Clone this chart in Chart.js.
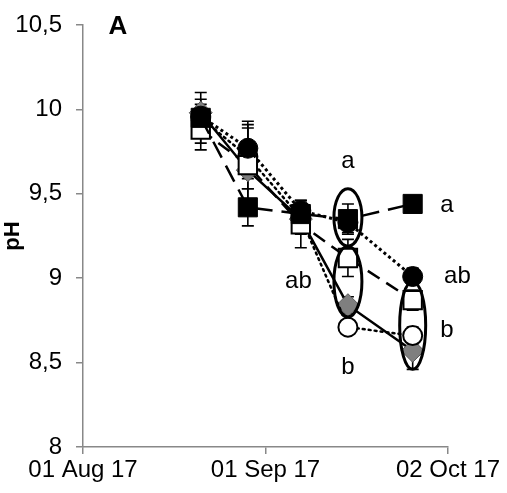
<!DOCTYPE html>
<html>
<head>
<meta charset="utf-8">
<script src="https://cdn.jsdelivr.net/npm/chart.js@4"></script>
<style>
  html, body { margin: 0; padding: 0; background: #fff; }
  #wrap { width: 507px; height: 493px; }
</style>
</head>
<body>
<div id="wrap"><canvas id="ph"></canvas></div>
<script>
// data
const xTickLabels = ['01 Aug 17', '01 Sep 17', '02 Oct 17'];
const sampleDays = [20, 28, 37, 45, 56]; // days after 01 Aug 17

const blackSquare = [9.95, 9.42, 9.38, 9.35, 9.44];
const blackCircle = [9.96, 9.77, 9.40, 9.33, 9.01];
const openSquare  = [9.88, 9.67, 9.32, 9.12, 8.87];
const openCircle  = [9.95, 9.72, 9.36, 8.71, 8.66];
const grayDiamond = [9.98, 9.64, 9.35, 8.84, 8.57];

const errBlackSquare = [0.15, 0.11, 0.08, 0.09, 0.03];
const errBlackCircle = [0.10, 0.16, 0.06, 0.06, 0.05];
const errOpenSquare  = [0.12, 0.22, 0.14, 0.11, 0.06];
const errOpenCircle  = [0.05, 0.19, 0.10, 0.04, 0.05];
const errGrayDiamond = [0.05, 0.05, 0.08, 0.05, 0.11];

// letters and circled groups
const letters = [
  { text: 'a',  x: 45,   y: 9.69 },
  { text: 'a',  x: 61.8, y: 9.43 },
  { text: 'ab', x: 36.6, y: 8.98 },
  { text: 'ab', x: 63.6, y: 9.01 },
  { text: 'b',  x: 61.8, y: 8.69 },
  { text: 'b',  x: 45,   y: 8.47 }
];
const ellipses = [
  { x: 45, y: 9.36, rx: 14, ry: 0.17 },
  { x: 45, y: 8.98, rx: 14, ry: 0.21 },
  { x: 56, y: 8.72, rx: 13, ry: 0.26 }
];

const pts = v => sampleDays.map((d, i) => ({ x: d, y: v[i] }));

const extras = {
  id: 'extras',
  beforeDatasetsDraw(chart) {
    const { ctx, scales: { x, y } } = chart;
    ctx.save();
    ctx.strokeStyle = '#000';
    ctx.lineWidth = 1.6;
    chart.data.datasets.forEach(ds => {
      ds.data.forEach((p, i) => {
        const px = x.getPixelForValue(p.x);
        const top = y.getPixelForValue(p.y + ds.err[i]);
        const bot = y.getPixelForValue(p.y - ds.err[i]);
        ctx.beginPath();
        ctx.moveTo(px, top); ctx.lineTo(px, bot);
        ctx.moveTo(px - 6, top); ctx.lineTo(px + 6, top);
        ctx.moveTo(px - 6, bot); ctx.lineTo(px + 6, bot);
        ctx.stroke();
      });
    });
    ctx.restore();
  },
  afterDatasetsDraw(chart) {
    const { ctx, scales: { x, y } } = chart;
    ctx.save();
    ctx.strokeStyle = '#000';
    ctx.lineWidth = 3;
    ellipses.forEach(e => {
      const cx = x.getPixelForValue(e.x);
      const cy = y.getPixelForValue(e.y);
      const ry = Math.abs(y.getPixelForValue(e.y + e.ry) - cy);
      ctx.beginPath();
      ctx.ellipse(cx, cy, e.rx, ry, 0, 0, Math.PI * 2);
      ctx.stroke();
    });
    ctx.fillStyle = '#000';
    ctx.font = '24px "Liberation Sans", Arial, sans-serif';
    ctx.textAlign = 'center';
    ctx.textBaseline = 'middle';
    letters.forEach(l => {
      ctx.fillText(l.text, x.getPixelForValue(l.x), y.getPixelForValue(l.y));
    });
    ctx.font = 'bold 26px "Liberation Sans", Arial, sans-serif';
    ctx.fillText('A', 118, 27);
    ctx.restore();
  }
};

Chart.defaults.font.family = '"Liberation Sans", Arial, sans-serif';
Chart.defaults.color = '#000';

new Chart(document.getElementById('ph'), {
  type: 'line',
  data: {
    datasets: [
      { data: pts(blackSquare), err: errBlackSquare, order: 1,
        borderColor: '#000', borderWidth: 2.5, borderDash: [18, 9],
        pointStyle: 'rect', pointRadius: 13.5, pointBackgroundColor: '#000', pointBorderColor: '#000', pointBorderWidth: 1 },
      { data: pts(blackCircle), err: errBlackCircle, order: 2,
        borderColor: '#000', borderWidth: 3, borderDash: [3, 3],
        pointStyle: 'circle', pointRadius: 10, pointBackgroundColor: '#000', pointBorderColor: '#000', pointBorderWidth: 1 },
      { data: pts(openSquare), err: errOpenSquare, order: 3,
        borderColor: '#000', borderWidth: 2.5, borderDash: [14, 8],
        pointStyle: 'rect', pointRadius: 13, pointBackgroundColor: '#fff', pointBorderColor: '#000', pointBorderWidth: 2 },
      { data: pts(openCircle), err: errOpenCircle, order: 4,
        borderColor: '#000', borderWidth: 2.5, borderDash: [2, 4], borderCapStyle: 'round',
        pointStyle: 'circle', pointRadius: 9.5, pointBackgroundColor: '#fff', pointBorderColor: '#000', pointBorderWidth: 2 },
      { data: pts(grayDiamond), err: errGrayDiamond, order: 5,
        borderColor: '#000', borderWidth: 2.5,
        pointStyle: 'rectRot', pointRadius: 11.5, pointBackgroundColor: '#7f7f7f', pointBorderColor: '#555', pointBorderWidth: 1 }
    ]
  },
  options: {
    responsive: true,
    maintainAspectRatio: false,
    animation: false,
    layout: { padding: { top: 25, right: 59, left: 0, bottom: 0 } },
    plugins: { legend: { display: false }, tooltip: { enabled: false } },
    scales: {
      x: {
        type: 'linear', min: 0, max: 62,
        afterBuildTicks: s => { s.ticks = [0, 31, 62].map(v => ({ value: v })); },
        afterFit: s => { s.height = 46; },
        border: { color: '#888', width: 1.5 },
        grid: { drawOnChartArea: false, color: '#888', tickLength: 7, lineWidth: 1.5 },
        ticks: { font: { size: 24 }, padding: 2, maxRotation: 0,
          callback: v => xTickLabels[Math.round(v / 31)] }
      },
      y: {
        min: 8, max: 10.5,
        afterFit: s => { s.width = 83; s.paddingTop = 0; s.paddingBottom = 0; },
        border: { color: '#888', width: 1.5 },
        grid: { drawOnChartArea: false, color: '#888', tickLength: 7, lineWidth: 1.5 },
        ticks: { stepSize: 0.5, font: { size: 24 }, padding: 14,
          callback: v => String(v).replace('.', ',') },
        title: { display: true, text: 'pH', font: { size: 22, weight: 'bold' }, padding: 0 }
      }
    }
  },
  plugins: [extras]
});
</script>
</body>
</html>
